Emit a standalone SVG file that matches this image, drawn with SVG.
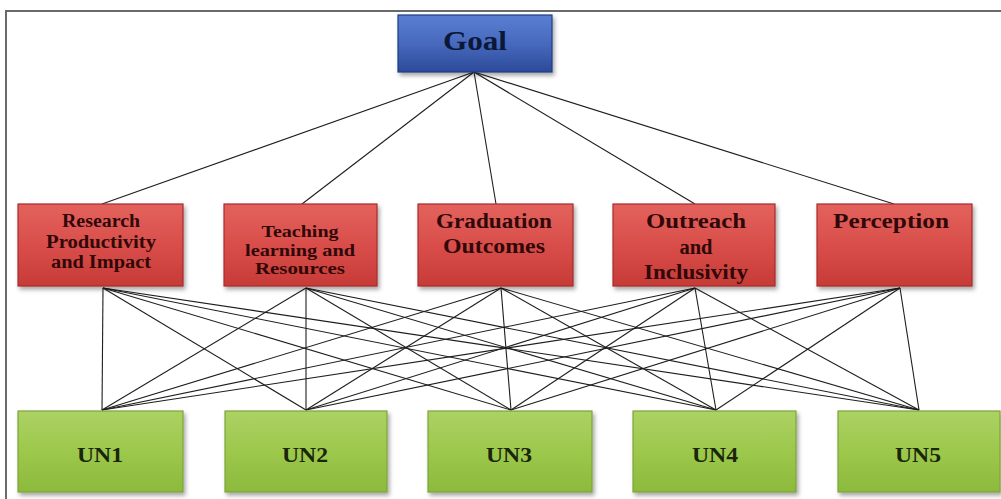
<svg xmlns="http://www.w3.org/2000/svg" width="1001" height="499" viewBox="0 0 1001 499">
  <style>
    .frame { fill: none; stroke: #6a6a6a; stroke-width: 2; }
    .link { stroke: #1e1e1e; stroke-width: 1.1; fill: none; }
    .lbl { font-family: "Liberation Serif", "Times New Roman", serif; font-weight: bold; text-anchor: middle; }
    .goal-t { font-size: 28px; fill: #0b1838; }
    .crit-t { font-size: 18.5px; fill: #300808; }
    .crit-ts { font-size: 17px; fill: #300808; }
    .crit-tl { font-size: 20px; fill: #300808; }
    .alt-t { font-size: 22px; fill: #1a260a; }
    .goal-box { fill: url(#gBlue); stroke: #1f3c80; stroke-width: 1.2; filter: url(#shadow); }
    .crit-box { fill: url(#gRed); stroke: #a82b2b; stroke-width: 1.2; filter: url(#shadow); }
    .alt-box { fill: url(#gGreen); stroke: #7ea33a; stroke-width: 1.2; filter: url(#shadow); }
  </style>
  <defs>
    <linearGradient id="gBlue" x1="0" y1="0" x2="0" y2="1">
      <stop offset="0" stop-color="#5a7fd2"/>
      <stop offset="0.5" stop-color="#4769bd"/>
      <stop offset="1" stop-color="#2c4a9a"/>
    </linearGradient>
    <linearGradient id="gRed" x1="0" y1="0" x2="0" y2="1">
      <stop offset="0" stop-color="#e3625d"/>
      <stop offset="0.5" stop-color="#d94e4a"/>
      <stop offset="1" stop-color="#c63a37"/>
    </linearGradient>
    <linearGradient id="gGreen" x1="0" y1="0" x2="0" y2="1">
      <stop offset="0" stop-color="#acd264"/>
      <stop offset="0.5" stop-color="#9cc84c"/>
      <stop offset="1" stop-color="#8cba3c"/>
    </linearGradient>
    <filter id="shadow" x="-10%" y="-10%" width="125%" height="135%">
      <feDropShadow dx="2" dy="3" stdDeviation="2" flood-color="#000" flood-opacity="0.35"/>
    </filter>
  </defs>

  <rect width="1001" height="499" fill="#ffffff"/>

  <!-- outer frame: top and left edges -->
  <path class="frame" d="M6,499 V11 H1001"/>

  <!-- connectors -->
  <g id="connectors">
    <!-- goal to criteria -->
    <line class="link" x1="474" y1="72" x2="102" y2="204"/>
    <line class="link" x1="474" y1="72" x2="302" y2="204"/>
    <line class="link" x1="474" y1="72" x2="496" y2="204"/>
    <line class="link" x1="474" y1="72" x2="695" y2="204"/>
    <line class="link" x1="474" y1="72" x2="894" y2="204"/>
    <!-- criteria to alternatives -->
    <line class="link" x1="103" y1="288" x2="102" y2="410"/>
    <line class="link" x1="103" y1="288" x2="306" y2="410"/>
    <line class="link" x1="103" y1="288" x2="511" y2="410"/>
    <line class="link" x1="103" y1="288" x2="716" y2="410"/>
    <line class="link" x1="103" y1="288" x2="919" y2="410"/>
    <line class="link" x1="306" y1="288" x2="102" y2="410"/>
    <line class="link" x1="306" y1="288" x2="306" y2="410"/>
    <line class="link" x1="306" y1="288" x2="511" y2="410"/>
    <line class="link" x1="306" y1="288" x2="716" y2="410"/>
    <line class="link" x1="306" y1="288" x2="919" y2="410"/>
    <line class="link" x1="501" y1="288" x2="102" y2="410"/>
    <line class="link" x1="501" y1="288" x2="306" y2="410"/>
    <line class="link" x1="501" y1="288" x2="511" y2="410"/>
    <line class="link" x1="501" y1="288" x2="716" y2="410"/>
    <line class="link" x1="501" y1="288" x2="919" y2="410"/>
    <line class="link" x1="695" y1="288" x2="102" y2="410"/>
    <line class="link" x1="695" y1="288" x2="306" y2="410"/>
    <line class="link" x1="695" y1="288" x2="511" y2="410"/>
    <line class="link" x1="695" y1="288" x2="716" y2="410"/>
    <line class="link" x1="695" y1="288" x2="919" y2="410"/>
    <line class="link" x1="900" y1="288" x2="102" y2="410"/>
    <line class="link" x1="900" y1="288" x2="306" y2="410"/>
    <line class="link" x1="900" y1="288" x2="511" y2="410"/>
    <line class="link" x1="900" y1="288" x2="716" y2="410"/>
    <line class="link" x1="900" y1="288" x2="919" y2="410"/>
  </g>

  <!-- goal -->
  <g id="goal">
    <rect class="goal-box" x="398" y="15" width="154" height="57"/>
    <text class="lbl goal-t" x="475" y="50" textLength="64" lengthAdjust="spacingAndGlyphs">Goal</text>
  </g>

  <!-- criteria -->
  <g id="research">
    <rect class="crit-box" x="18" y="204" width="165" height="82"/>
    <text class="lbl crit-t" x="101" y="227" textLength="78" lengthAdjust="spacingAndGlyphs">Research</text>
    <text class="lbl crit-t" x="101" y="248" textLength="110" lengthAdjust="spacingAndGlyphs">Productivity</text>
    <text class="lbl crit-t" x="101" y="268" textLength="100" lengthAdjust="spacingAndGlyphs">and Impact</text>
  </g>
  <g id="teaching">
    <rect class="crit-box" x="224" y="204" width="153" height="82"/>
    <text class="lbl crit-ts" x="300" y="237" textLength="77" lengthAdjust="spacingAndGlyphs">Teaching</text>
    <text class="lbl crit-ts" x="300" y="256" textLength="110" lengthAdjust="spacingAndGlyphs">learning and</text>
    <text class="lbl crit-ts" x="300" y="274" textLength="90" lengthAdjust="spacingAndGlyphs">Resources</text>
  </g>
  <g id="graduation">
    <rect class="crit-box" x="418" y="204" width="155" height="82"/>
    <text class="lbl crit-tl" x="494" y="228" textLength="116" lengthAdjust="spacingAndGlyphs">Graduation</text>
    <text class="lbl crit-tl" x="494" y="253" textLength="102" lengthAdjust="spacingAndGlyphs">Outcomes</text>
  </g>
  <g id="outreach">
    <rect class="crit-box" x="613" y="204" width="162" height="82"/>
    <text class="lbl crit-tl" x="696" y="228" textLength="100" lengthAdjust="spacingAndGlyphs">Outreach</text>
    <text class="lbl crit-tl" x="696" y="254" textLength="33" lengthAdjust="spacingAndGlyphs">and</text>
    <text class="lbl crit-tl" x="696" y="279" textLength="104" lengthAdjust="spacingAndGlyphs">Inclusivity</text>
  </g>
  <g id="perception">
    <rect class="crit-box" x="817" y="204" width="155" height="82"/>
    <text class="lbl crit-tl" x="891" y="228" textLength="116" lengthAdjust="spacingAndGlyphs">Perception</text>
  </g>

  <!-- alternatives -->
  <g id="un1">
    <rect class="alt-box" x="18" y="411" width="165" height="81"/>
    <text class="lbl alt-t" x="100" y="462" textLength="46" lengthAdjust="spacingAndGlyphs">UN1</text>
  </g>
  <g id="un2">
    <rect class="alt-box" x="225" y="411" width="162" height="81"/>
    <text class="lbl alt-t" x="305" y="462" textLength="46" lengthAdjust="spacingAndGlyphs">UN2</text>
  </g>
  <g id="un3">
    <rect class="alt-box" x="428" y="411" width="164" height="81"/>
    <text class="lbl alt-t" x="509" y="462" textLength="46" lengthAdjust="spacingAndGlyphs">UN3</text>
  </g>
  <g id="un4">
    <rect class="alt-box" x="633" y="411" width="163" height="81"/>
    <text class="lbl alt-t" x="715" y="462" textLength="46" lengthAdjust="spacingAndGlyphs">UN4</text>
  </g>
  <g id="un5">
    <rect class="alt-box" x="838" y="411" width="162" height="81"/>
    <text class="lbl alt-t" x="918" y="462" textLength="46" lengthAdjust="spacingAndGlyphs">UN5</text>
  </g>
</svg>
